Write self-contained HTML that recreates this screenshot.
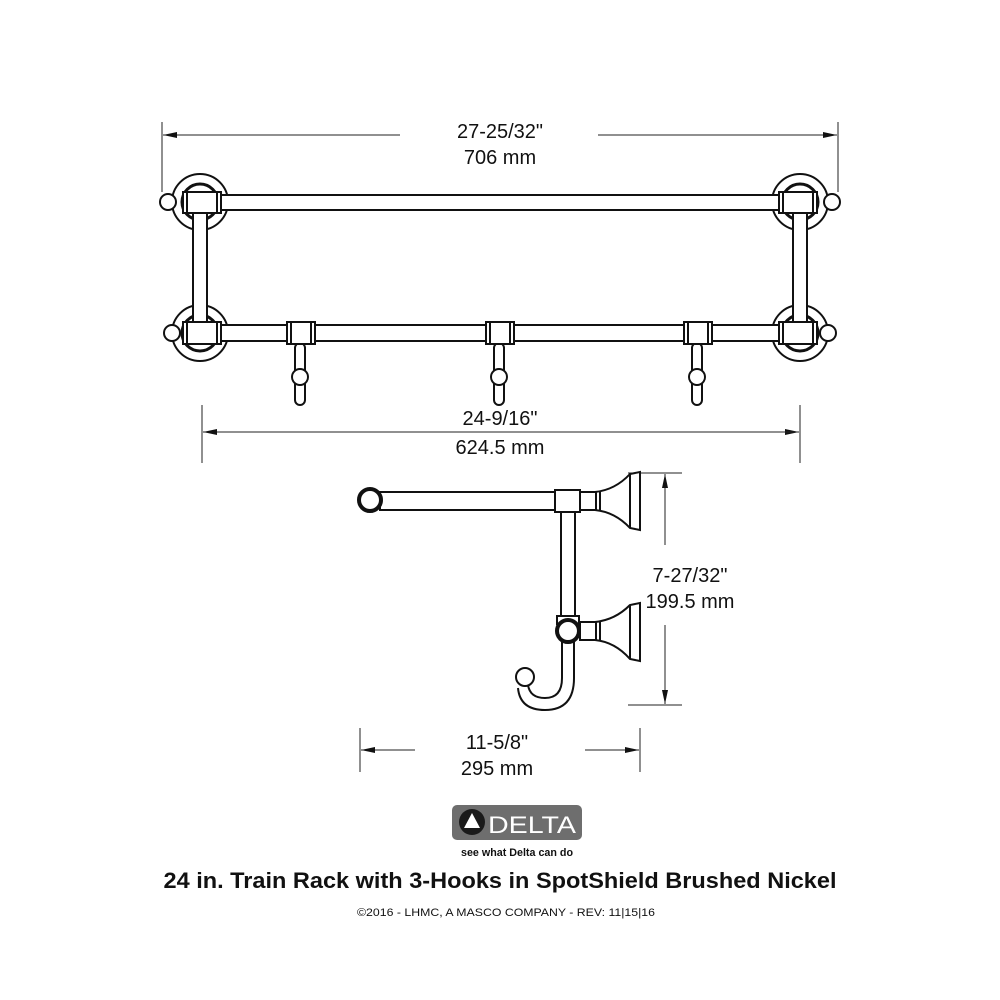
<!DOCTYPE html>
<html><head><meta charset="utf-8"><style>
html,body{margin:0;padding:0;background:#fff;}
svg{display:block;}
text{font-family:"Liberation Sans",sans-serif;fill:#111;}
</style></head><body>
<svg width="1000" height="1000" viewBox="0 0 1000 1000" xmlns="http://www.w3.org/2000/svg">
<defs>
<marker id="ar" markerWidth="14" markerHeight="8" refX="14" refY="4" orient="auto" markerUnits="userSpaceOnUse">
<path d="M0,1 L14,4 L0,7 Z" fill="#111"/></marker>
</defs>
<g stroke="#222" stroke-width="1" fill="none">
<!-- top dimension -->
<line x1="162" y1="122" x2="162" y2="192"/>
<line x1="838" y1="122" x2="838" y2="192"/>
<line x1="400" y1="135" x2="163" y2="135" marker-end="url(#ar)"/>
<line x1="598" y1="135" x2="837" y2="135" marker-end="url(#ar)"/>
<!-- second dimension -->
<line x1="202" y1="405" x2="202" y2="463"/>
<line x1="800" y1="405" x2="800" y2="463"/>
<line x1="203" y1="432" x2="799" y2="432" marker-end="url(#ar)"/>
<line x1="799" y1="432" x2="203" y2="432" marker-end="url(#ar)"/>
<!-- side vertical dimension -->
<line x1="628" y1="473" x2="682" y2="473"/>
<line x1="628" y1="705" x2="682" y2="705"/>
<line x1="665" y1="545" x2="665" y2="474" marker-end="url(#ar)"/>
<line x1="665" y1="625" x2="665" y2="704" marker-end="url(#ar)"/>
<!-- side horizontal dimension -->
<line x1="360" y1="728" x2="360" y2="772"/>
<line x1="640" y1="728" x2="640" y2="772"/>
<line x1="415" y1="750" x2="361" y2="750" marker-end="url(#ar)"/>
<line x1="585" y1="750" x2="639" y2="750" marker-end="url(#ar)"/>
</g>

<g stroke="#111" stroke-width="2" fill="#fff">
<!-- flanges -->
<circle cx="200" cy="202" r="28"/><circle cx="200" cy="202" r="18" stroke-width="3"/>
<circle cx="800" cy="202" r="28"/><circle cx="800" cy="202" r="18" stroke-width="3"/>
<circle cx="200" cy="333" r="28"/><circle cx="200" cy="333" r="18" stroke-width="3"/>
<circle cx="800" cy="333" r="28"/><circle cx="800" cy="333" r="18" stroke-width="3"/>
<!-- posts -->
<rect x="193" y="212" width="14" height="112"/>
<rect x="793" y="212" width="14" height="112"/>
<!-- bars -->
<rect x="220" y="195" width="560" height="15"/>
<rect x="220" y="325" width="560" height="16"/>
<!-- knobs -->
<circle cx="168" cy="202" r="8"/><circle cx="832" cy="202" r="8"/>
<circle cx="172" cy="333" r="8"/><circle cx="828" cy="333" r="8"/>
<!-- collars -->
<rect x="183" y="192" width="38" height="21"/><line x1="187" y1="192" x2="187" y2="213"/><line x1="217" y1="192" x2="217" y2="213"/>
<rect x="779" y="192" width="38" height="21"/><line x1="783" y1="192" x2="783" y2="213"/><line x1="813" y1="192" x2="813" y2="213"/>
<rect x="183" y="322" width="38" height="22"/><line x1="187" y1="322" x2="187" y2="344"/><line x1="217" y1="322" x2="217" y2="344"/>
<rect x="779" y="322" width="38" height="22"/><line x1="783" y1="322" x2="783" y2="344"/><line x1="813" y1="322" x2="813" y2="344"/>
<!-- hooks -->
<g id="hk">
<rect x="295" y="343" width="10" height="62" rx="5"/>
<circle cx="300" cy="377" r="8"/>
<rect x="287" y="322" width="28" height="22"/><line x1="291" y1="322" x2="291" y2="344"/><line x1="311" y1="322" x2="311" y2="344"/>
</g>
<use href="#hk" x="199"/>
<use href="#hk" x="397"/>

<!-- side view -->
<rect x="380" y="492" width="176" height="18"/>
<circle cx="370" cy="500" r="11" stroke-width="4"/>
<rect x="561" y="510" width="14" height="110"/>
<rect x="555" y="490" width="25" height="22"/>
<path d="M580,492 L595,492 Q615,490 630,474 L640,472 L640,530 L630,528 Q615,512 595,510 L580,510 Z"/>
<line x1="596" y1="492" x2="596" y2="510"/><line x1="600" y1="491" x2="600" y2="511"/>
<line x1="630" y1="474" x2="630" y2="528"/>
<!-- lower hook -->
<path d="M580,622 L595,622 Q615,620 630,605 L640,603 L640,661 L630,659 Q615,642 595,640 L580,640 Z"/>
<line x1="596" y1="622" x2="596" y2="640"/><line x1="600" y1="621" x2="600" y2="641"/>
<line x1="630" y1="605" x2="630" y2="659"/>
<rect x="557" y="616" width="22" height="8"/>
<path d="M562,640 L562,678 Q562,698 545,698 Q530,698 528,685 M574,640 L574,678 Q574,710 545,710 Q520,710 518,688"/>
<circle cx="525" cy="677" r="9"/>
<circle cx="568" cy="631" r="11" stroke-width="4"/>
</g>

<!-- texts -->
<text x="500" y="138" font-size="20" text-anchor="middle">27-25/32"</text>
<text x="500" y="164" font-size="20" text-anchor="middle">706 mm</text>
<text x="500" y="425" font-size="20" text-anchor="middle">24-9/16"</text>
<text x="500" y="454" font-size="20" text-anchor="middle">624.5 mm</text>
<text x="690" y="582" font-size="20" text-anchor="middle">7-27/32"</text>
<text x="690" y="608" font-size="20" text-anchor="middle">199.5 mm</text>
<text x="497" y="749" font-size="20" text-anchor="middle">11-5/8"</text>
<text x="497" y="775" font-size="20" text-anchor="middle">295 mm</text>

<!-- logo -->
<rect x="452" y="805" width="130" height="35" rx="5" fill="#6e6e6e"/>
<circle cx="472" cy="822" r="13" fill="#1a1a1a"/>
<path d="M472,813 L480,828 L464,828 Z" fill="#fff"/>
<text x="488" y="833" font-size="24" fill="#fff" style="fill:#fff" textLength="88" lengthAdjust="spacingAndGlyphs">DELTA</text>
<text x="461" y="856" font-size="11" font-weight="bold" textLength="112" lengthAdjust="spacingAndGlyphs">see what Delta can do</text>
<text x="500" y="888" font-size="22" font-weight="bold" text-anchor="middle" textLength="673" lengthAdjust="spacingAndGlyphs">24 in. Train Rack with 3-Hooks in SpotShield Brushed Nickel</text>
<text x="506" y="916" font-size="11" text-anchor="middle" textLength="298" lengthAdjust="spacingAndGlyphs">©2016 - LHMC, A MASCO COMPANY - REV: 11|15|16</text>
</svg>
</body></html>
